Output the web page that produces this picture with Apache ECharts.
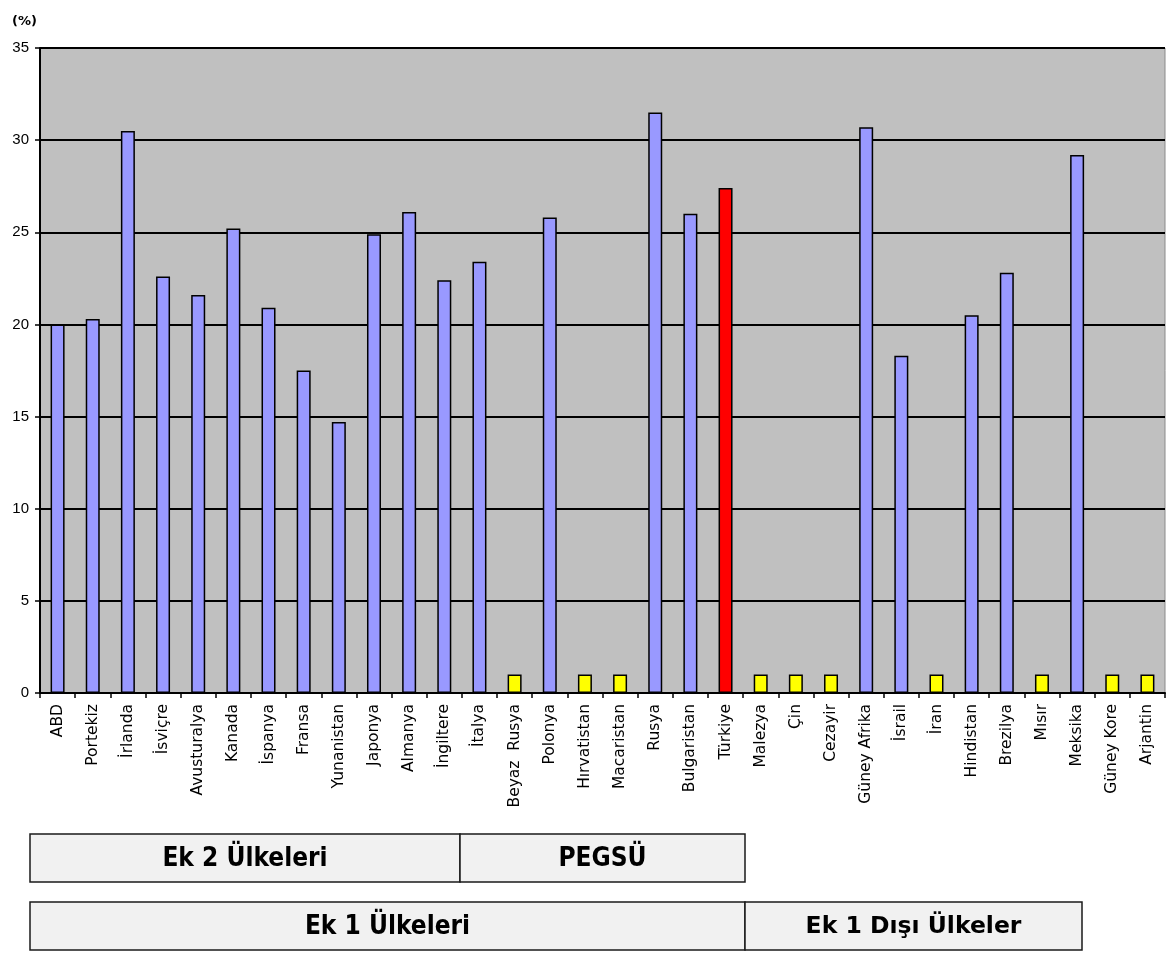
<!DOCTYPE html>
<html>
<head>
<meta charset="utf-8">
<title>Emisyon oranları</title>
<script src="https://cdn.jsdelivr.net/npm/echarts@6/dist/echarts.min.js"></script>
<style>
  html, body { margin: 0; padding: 0; background: #ffffff; }
  #chart { width: 1175px; height: 954px; }
</style>
</head>
<body>
<div id="chart"></div>
<script>
// Ülkeler (x ekseni kategorileri)
const countries = [
  'ABD', 'Portekiz', 'İrlanda', 'İsviçre', 'Avusturalya', 'Kanada', 'İspanya',
  'Fransa', 'Yunanistan', 'Japonya', 'Almanya', 'İngiltere', 'İtalya',
  'Beyaz  Rusya', 'Polonya', 'Hırvatistan', 'Macaristan', 'Rusya', 'Bulgaristan',
  'Türkiye', 'Malezya', 'Çin', 'Cezayir', 'Güney Afrika', 'İsrail', 'İran',
  'Hindistan', 'Brezilya', 'Mısır', 'Meksika', 'Güney Kore', 'Arjantin'
];

// Oranlar (%)
const values = [
  20.0, 20.3, 30.5, 22.6, 21.6, 25.2, 20.9,
  17.5, 14.7, 24.9, 26.1, 22.4, 23.4,
  1, 25.8, 1, 1, 31.5, 26.0,
  27.4, 1, 1, 1, 30.7, 18.3, 1,
  20.5, 22.8, 1, 29.2, 1, 1
];

// Değer verisi olmayan ülkeler (yalnızca işaret çubuğu)
const noDataCountries = [
  'Beyaz  Rusya', 'Hırvatistan', 'Macaristan', 'Malezya', 'Çin', 'Cezayir',
  'İran', 'Mısır', 'Güney Kore', 'Arjantin'
];

const highlightCountry = 'Türkiye';

// Y ekseni
const yMin = 0, yMax = 35, yStep = 5;

// Alt gruplama kutuları
const groupRow1 = ['Ek 2 Ülkeleri', 'PEGSÜ'];
const groupRow2 = ['Ek 1 Ülkeleri', 'Ek 1 Dışı Ülkeler'];

const chart = echarts.init(document.getElementById('chart'), null, { renderer: 'canvas' });

function box(x, y, w, h, label, font) {
  return {
    type: 'group',
    children: [
      {
        type: 'rect',
        shape: { x: x, y: y, width: w, height: h },
        style: { fill: '#f1f1f1', stroke: '#1a1a1a', lineWidth: 1.5 }
      },
      {
        type: 'text',
        x: x + w / 2,
        y: y + h / 2 + 1,
        style: {
          text: label,
          font: font,
          fill: '#000',
          align: 'center',
          verticalAlign: 'middle'
        }
      }
    ]
  };
}

const condensed = 'bold 26px "DejaVu Sans Condensed", "DejaVu Sans", sans-serif';
const wide = 'bold 23.5px "DejaVu Sans", sans-serif';

const option = {
  animation: false,
  backgroundColor: '#ffffff',
  title: {
    text: '(%)',
    left: 7,
    top: 10,
    textStyle: { fontFamily: 'DejaVu Sans', fontSize: 13, fontWeight: 'bold', color: '#000' }
  },
  grid: {
    left: 40, right: 10, top: 48, bottom: 261,
    show: true,
    backgroundColor: '#c0c0c0',
    borderColor: '#8a8a8a',
    borderWidth: 1
  },
  xAxis: {
    type: 'category',
    data: countries,
    boundaryGap: true,
    axisLine: { lineStyle: { color: '#000', width: 2 } },
    axisTick: { show: true, alignWithLabel: false, length: 5, lineStyle: { color: '#000', width: 1.5 } },
    axisLabel: {
      rotate: 90,
      interval: 0,
      margin: 11,
      fontFamily: 'DejaVu Sans',
      fontSize: 15.5,
      color: '#000'
    },
    splitLine: { show: false }
  },
  yAxis: {
    type: 'value',
    min: yMin,
    max: yMax,
    interval: yStep,
    axisLine: { show: true, lineStyle: { color: '#000', width: 2 } },
    axisTick: { show: true, length: 5, lineStyle: { color: '#000', width: 1.5 } },
    axisLabel: {
      margin: 11,
      fontFamily: 'Liberation Sans',
      fontSize: 15,
      color: '#000'
    },
    splitLine: { show: true, lineStyle: { color: '#000', width: 2 } }
  },
  series: [{
    type: 'bar',
    data: values,
    barWidth: 14,
    itemStyle: {
      borderColor: '#000',
      borderWidth: 1.5,
      color: function (p) {
        if (p.name === highlightCountry) return '#ff0000';
        if (noDataCountries.indexOf(p.name) >= 0) return '#ffff00';
        return '#9999ff';
      }
    }
  }],
  graphic: [
    box(30, 834, 430, 48, groupRow1[0], condensed),
    box(460, 834, 285, 48, groupRow1[1], condensed),
    box(30, 902, 715, 48, groupRow2[0], condensed),
    box(745, 902, 337, 48, groupRow2[1], wide)
  ]
};

chart.setOption(option);
</script>
</body>
</html>
